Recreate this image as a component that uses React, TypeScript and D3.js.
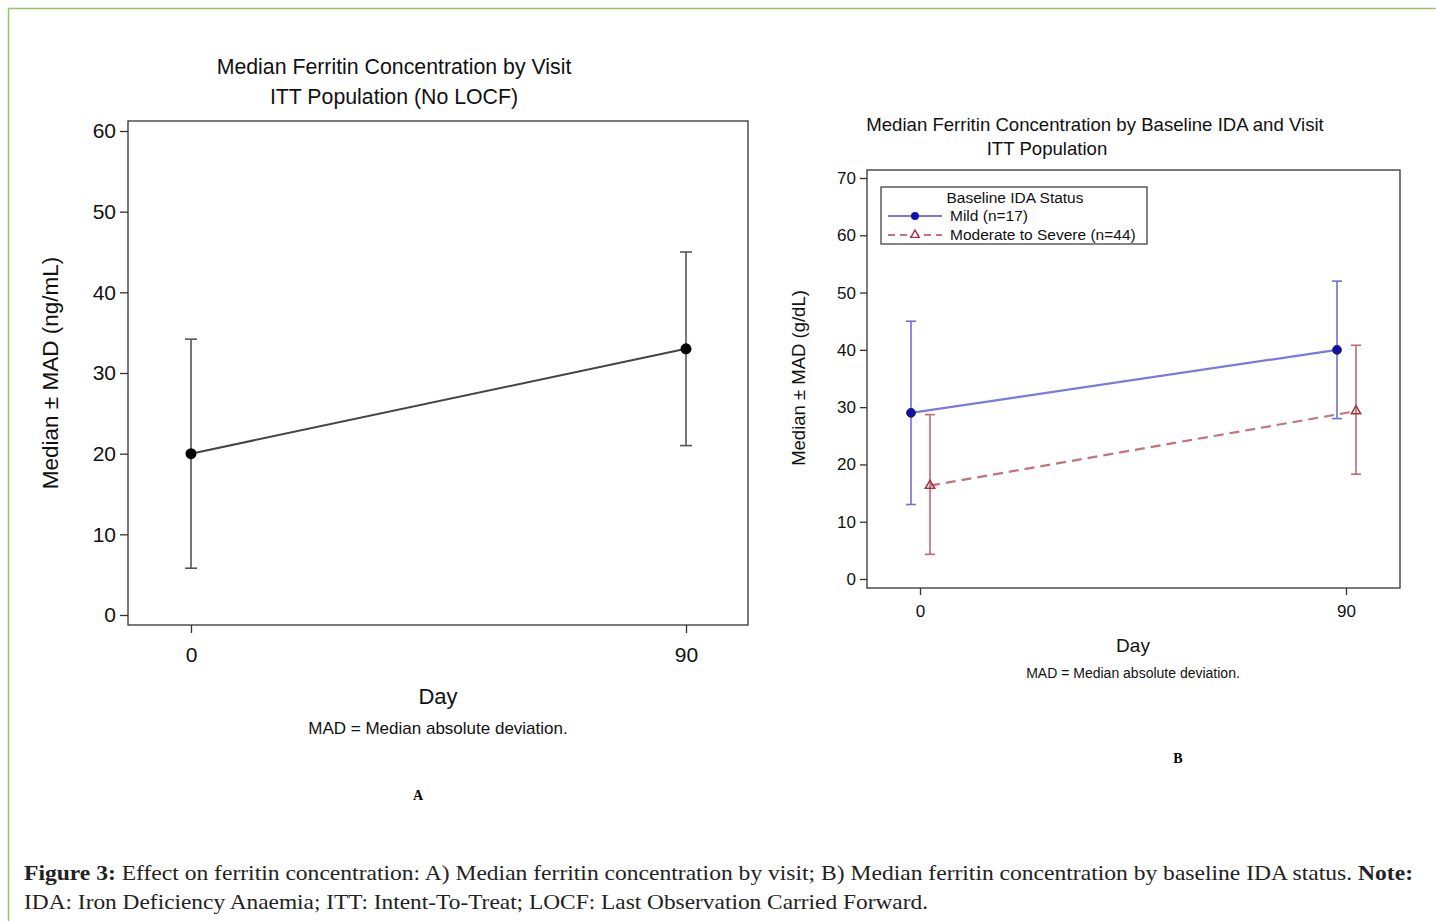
import React, { useEffect, useRef } from "react";
import * as d3 from "d3";

// panel A: overall medians
const daysA = [0, 90];
const medianA = [20, 33];
const lowerA = [5.8, 21];
const upperA = [34.2, 45];
const yTicksA = [0, 10, 20, 30, 40, 50, 60];

// panel B: by baseline IDA status
const daysB = [0, 90];
const mildMedian = [29, 40];
const mildLower = [13, 28];
const mildUpper = [45, 52];
const modMedian = [16.3, 29.3];
const modLower = [4.3, 18.3];
const modUpper = [28.7, 40.8];
const yTicksB = [0, 10, 20, 30, 40, 50, 60, 70];
const legendLabels = ["Mild (n=17)", "Moderate to Severe (n=44)"];

const SANS = "'Liberation Sans', Arial, sans-serif";
const SERIF = "'Liberation Serif', 'Times New Roman', serif";

const App = () => {
  const svgRef = useRef<SVGSVGElement | null>(null);

  useEffect(() => {
    const svg = d3.select(svgRef.current);
    svg.selectAll("*").remove();

    // green frame around the figure
    svg.append("path")
      .attr("d", "M8.5,921 L8.5,8.5 L1436,8.5")
      .attr("fill", "none")
      .attr("stroke", "#8cc86a")
      .attr("stroke-width", 1.5);

    // ---------- Panel A ----------
    const a = svg.append("g").attr("font-family", SANS).attr("fill", "#111");
    const xA = d3.scaleLinear().domain([0, 90]).range([191, 686]);
    const yA = d3.scaleLinear().domain([0, 60]).range([615, 131]);

    a.append("text").attr("x", 394).attr("y", 74).attr("text-anchor", "middle")
      .attr("font-size", 21.3).text("Median Ferritin Concentration by Visit");
    a.append("text").attr("x", 394).attr("y", 104).attr("text-anchor", "middle")
      .attr("font-size", 21.3).text("ITT Population (No LOCF)");

    a.append("rect").attr("x", 128).attr("y", 121).attr("width", 620).attr("height", 504)
      .attr("fill", "none").attr("stroke", "#333").attr("stroke-width", 1.3);

    const axLA = a.append("g").attr("transform", "translate(128,0)")
      .call(d3.axisLeft(yA).tickValues(yTicksA).tickSize(8).tickPadding(4));
    axLA.select(".domain").remove();
    axLA.selectAll("line").attr("stroke", "#333").attr("stroke-width", 1.3);
    axLA.selectAll("text").attr("font-family", SANS).attr("font-size", 21).attr("fill", "#111");

    const axBA = a.append("g").attr("transform", "translate(0,625)")
      .call(d3.axisBottom(xA).tickValues(daysA).tickSize(8).tickPadding(14));
    axBA.select(".domain").remove();
    axBA.selectAll("line").attr("stroke", "#333").attr("stroke-width", 1.3);
    axBA.selectAll("text").attr("font-family", SANS).attr("font-size", 21).attr("fill", "#111");

    a.append("text").attr("x", 438).attr("y", 704).attr("text-anchor", "middle")
      .attr("font-size", 22).text("Day");
    a.append("text").attr("x", 438).attr("y", 734).attr("text-anchor", "middle")
      .attr("font-size", 17).text("MAD = Median absolute deviation.");
    a.append("text").attr("transform", "translate(58,373) rotate(-90)")
      .attr("text-anchor", "middle").attr("font-size", 22.5).text("Median ± MAD (ng/mL)");

    daysA.forEach((d, i) => {
      const x = xA(d);
      a.append("line").attr("x1", x).attr("x2", x).attr("y1", yA(lowerA[i])).attr("y2", yA(upperA[i]))
        .attr("stroke", "#555").attr("stroke-width", 1.6);
      [lowerA[i], upperA[i]].forEach((v) => {
        a.append("line").attr("x1", x - 6).attr("x2", x + 6).attr("y1", yA(v)).attr("y2", yA(v))
          .attr("stroke", "#555").attr("stroke-width", 1.6);
      });
    });
    const lineA = d3.line<number>().x((_, i) => xA(daysA[i])).y((v) => yA(v));
    a.append("path").attr("d", lineA(medianA)).attr("fill", "none")
      .attr("stroke", "#444").attr("stroke-width", 2);
    a.selectAll("circle.ma").data(medianA).enter().append("circle")
      .attr("cx", (_, i) => xA(daysA[i])).attr("cy", (v) => yA(v)).attr("r", 5.5).attr("fill", "#000");

    svg.append("text").attr("x", 418).attr("y", 800).attr("text-anchor", "middle")
      .attr("font-family", SERIF).attr("font-weight", "bold").attr("font-size", 14).text("A");

    // ---------- Panel B ----------
    const b = svg.append("g").attr("font-family", SANS).attr("fill", "#111");
    const xB = d3.scaleLinear().domain([0, 90]).range([920, 1346]);
    const yB = d3.scaleLinear().domain([0, 70]).range([579, 178]);
    const off = { mild: -9, mod: 10 };

    b.append("text").attr("x", 1095).attr("y", 131).attr("text-anchor", "middle")
      .attr("font-size", 18.6).text("Median Ferritin Concentration by Baseline IDA and Visit");
    b.append("text").attr("x", 1047).attr("y", 155).attr("text-anchor", "middle")
      .attr("font-size", 18.6).text("ITT Population");

    b.append("rect").attr("x", 867).attr("y", 170).attr("width", 533).attr("height", 418)
      .attr("fill", "none").attr("stroke", "#333").attr("stroke-width", 1.3);

    const axLB = b.append("g").attr("transform", "translate(867,0)")
      .call(d3.axisLeft(yB).tickValues(yTicksB).tickSize(7).tickPadding(4));
    axLB.select(".domain").remove();
    axLB.selectAll("line").attr("stroke", "#333").attr("stroke-width", 1.3);
    axLB.selectAll("text").attr("font-family", SANS).attr("font-size", 17).attr("fill", "#111");

    const axBB = b.append("g").attr("transform", "translate(0,588)")
      .call(d3.axisBottom(xB).tickValues(daysB).tickSize(7).tickPadding(10));
    axBB.select(".domain").remove();
    axBB.selectAll("line").attr("stroke", "#333").attr("stroke-width", 1.3);
    axBB.selectAll("text").attr("font-family", SANS).attr("font-size", 17).attr("fill", "#111");

    b.append("text").attr("x", 1133).attr("y", 652).attr("text-anchor", "middle")
      .attr("font-size", 19).text("Day");
    b.append("text").attr("x", 1133).attr("y", 678).attr("text-anchor", "middle")
      .attr("font-size", 14).text("MAD = Median absolute deviation.");
    b.append("text").attr("transform", "translate(805,378) rotate(-90)")
      .attr("text-anchor", "middle").attr("font-size", 18.5).text("Median ± MAD (g/dL)");

    const drawSeries = (med: number[], lo: number[], hi: number[], dx: number,
      barColor: string, lineColor: string, markColor: string, dashed: boolean, tri: boolean) => {
      daysB.forEach((d, i) => {
        const x = xB(d) + dx;
        b.append("line").attr("x1", x).attr("x2", x).attr("y1", yB(lo[i])).attr("y2", yB(hi[i]))
          .attr("stroke", barColor).attr("stroke-width", 1.6);
        [lo[i], hi[i]].forEach((v) => {
          b.append("line").attr("x1", x - 5).attr("x2", x + 5).attr("y1", yB(v)).attr("y2", yB(v))
            .attr("stroke", barColor).attr("stroke-width", 1.6);
        });
      });
      const ln = d3.line<number>().x((_, i) => xB(daysB[i]) + dx).y((v) => yB(v));
      b.append("path").attr("d", ln(med)).attr("fill", "none").attr("stroke", lineColor)
        .attr("stroke-width", 2.2).attr("stroke-dasharray", dashed ? "10,6" : null);
      med.forEach((v, i) => {
        const x = xB(daysB[i]) + dx;
        if (tri) {
          b.append("path").attr("d", d3.symbol(d3.symbolTriangle, 38)())
            .attr("transform", `translate(${x},${yB(v)})`)
            .attr("fill", "none").attr("stroke", markColor).attr("stroke-width", 1.5);
        } else {
          b.append("circle").attr("cx", x).attr("cy", yB(v)).attr("r", 4.5)
            .attr("fill", markColor).attr("stroke", "#223").attr("stroke-width", 0.8);
        }
      });
    };
    drawSeries(mildMedian, mildLower, mildUpper, off.mild, "#6f6fd6", "#7a7ade", "#1010b0", false, false);
    drawSeries(modMedian, modLower, modUpper, off.mod, "#c06a70", "#c27478", "#a8303c", true, true);

    // legend
    const lg = b.append("g");
    lg.append("rect").attr("x", 881).attr("y", 187).attr("width", 266).attr("height", 57)
      .attr("fill", "#fff").attr("stroke", "#333").attr("stroke-width", 1.2);
    lg.append("text").attr("x", 1015).attr("y", 203).attr("text-anchor", "middle")
      .attr("font-size", 15.5).text("Baseline IDA Status");
    const items = [
      { y: 216, color: "#7a7ade", mark: "#1010b0", dashed: false },
      { y: 235, color: "#c27478", mark: "#a8303c", dashed: true },
    ];
    items.forEach((it, i) => {
      lg.append("line").attr("x1", 888).attr("x2", 942).attr("y1", it.y).attr("y2", it.y)
        .attr("stroke", it.color).attr("stroke-width", 1.8)
        .attr("stroke-dasharray", it.dashed ? "7,5" : null);
      if (it.dashed) {
        lg.append("path").attr("d", d3.symbol(d3.symbolTriangle, 30)())
          .attr("transform", `translate(915,${it.y})`)
          .attr("fill", "#fff").attr("stroke", it.mark).attr("stroke-width", 1.4);
      } else {
        lg.append("circle").attr("cx", 915).attr("cy", it.y).attr("r", 4).attr("fill", it.mark);
      }
      lg.append("text").attr("x", 950).attr("y", it.y + 5).attr("font-size", 15.5).text(legendLabels[i]);
    });

    svg.append("text").attr("x", 1178).attr("y", 763).attr("text-anchor", "middle")
      .attr("font-family", SERIF).attr("font-weight", "bold").attr("font-size", 14).text("B");

    // caption
    const cap = svg.append("g").attr("font-family", SERIF).attr("font-size", 21).attr("fill", "#222");
    const l1 = cap.append("text").attr("x", 24).attr("y", 880)
      .attr("textLength", 1389).attr("lengthAdjust", "spacingAndGlyphs");
    l1.append("tspan").attr("font-weight", "bold").text("Figure 3:");
    l1.append("tspan").text(" Effect on ferritin concentration: A) Median ferritin concentration by visit; B) Median ferritin concentration by baseline IDA status. ");
    l1.append("tspan").attr("font-weight", "bold").text("Note:");
    cap.append("text").attr("x", 24).attr("y", 909)
      .attr("textLength", 904).attr("lengthAdjust", "spacingAndGlyphs")
      .text("IDA: Iron Deficiency Anaemia; ITT: Intent-To-Treat; LOCF: Last Observation Carried Forward.");
  }, []);

  return (
    <svg
      ref={svgRef}
      width={1436}
      height={921}
      style={{ position: "absolute", left: 0, top: 0, background: "#fff" }}
    />
  );
};

export default App;
